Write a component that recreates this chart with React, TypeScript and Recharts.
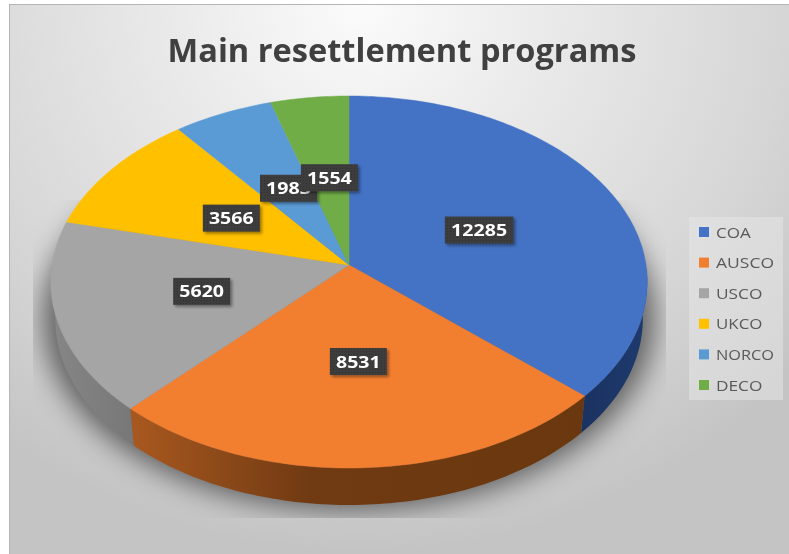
import React from "react";
import { PieChart, Pie, Cell, Legend } from "recharts";

const categories = ["COA", "AUSCO", "USCO", "UKCO", "NORCO", "DECO"];
const values = [12285, 8531, 5620, 3566, 1983, 1554];
const colors = ["#4472c4", "#f27f30", "#a5a5a5", "#ffc000", "#5b9bd5", "#70ad47"];
const wallFills = ["url(#wallBlue)", "url(#wallOrange)", "url(#wallGrey)", "#9a7400", "#36638c", "#44702a"];
// small hand nudges off the half-radius spot, like the best-fit labels in the reference
const labelNudgeX = [-4, 2, -4, 3, 4, 0];
const labelNudgeY = [2, 0, 0, 2, 2, 0];

const data = categories.map((name, i) => ({ name, value: values[i] }));

const FONT = "'Open Sans', sans-serif";
const RAD = Math.PI / 180;
// tilted disc: perspective projection of a circle lying on its back
const TILT = 0.621;
const PERSP = 0.0914;
const DEPTH = 37;
const BOTTOM_SCALE = 0.985;

const project = (cx: number, cy: number, r: number, deg: number, k = 1) => {
  const u = Math.cos(deg * RAD) * k;
  const v = -Math.sin(deg * RAD) * k;
  const s = 1 / (1 - PERSP * v);
  return { x: cx + r * u * s, y: cy + r * TILT * v * s, v };
};

const toPath = (pts: { x: number; y: number }[]) =>
  "M" + pts.map((p) => `${p.x.toFixed(1)},${p.y.toFixed(1)}`).join("L") + "Z";

const DiscSector = (props: any) => {
  const { cx, cy, outerRadius, startAngle, endAngle, name } = props;
  const idx = categories.indexOf(name);
  const rim: { x: number; y: number; v: number }[] = [];
  const n = Math.max(2, Math.ceil(Math.abs(startAngle - endAngle)));
  for (let i = 0; i <= n; i++) {
    rim.push(project(cx, cy, outerRadius, startAngle + ((endAngle - startAngle) * i) / n));
  }
  const front = rim.filter((p) => p.v >= 0);
  const lower = front
    .map((p) => ({ x: cx + (p.x - cx) * BOTTOM_SCALE, y: p.y + DEPTH }))
    .reverse();
  return (
    <g>
      {front.length > 1 && <path d={toPath([...front, ...lower])} fill={wallFills[idx]} />}
      <path d={toPath([{ x: cx, y: cy }, ...rim])} fill={colors[idx]} stroke={colors[idx]} strokeWidth={0.5} />
    </g>
  );
};

const DataLabel = (props: any) => {
  const { cx, cy, outerRadius, midAngle, value } = props;
  const idx = values.indexOf(value);
  const p = project(cx, cy, outerRadius, midAngle, 0.5);
  const x = p.x + 1 + labelNudgeX[idx];
  const y = p.y + labelNudgeY[idx];
  const digits = String(value).length;
  const w = digits * 11.5 + 11;
  return (
    <g>
      <rect x={x - w / 2} y={y - 13.5} width={w} height={27} fill="url(#labelDots)" filter="url(#labelShadow)" />
      <text
        x={x}
        y={y + 6}
        textAnchor="middle"
        fill="#fff"
        fontFamily={FONT}
        fontWeight={700}
        fontSize={16.5}
        textLength={digits * 11.2}
        lengthAdjust="spacingAndGlyphs"
      >
        {value}
      </text>
    </g>
  );
};

const LegendBox = ({ payload }: any) => (
  <svg width={94} height={183} style={{ display: "block" }}>
    <rect width={94} height={183} fill="#e8e8e8" fillOpacity={0.5} />
    {(payload || []).map((item: any, i: number) => (
      <g key={item.value} transform={`translate(0 ${15 + i * 30.6})`}>
        <rect x={10} y={-5} width={10} height={10} fill={item.color} />
        <text
          x={27}
          y={5.5}
          fontFamily={FONT}
          fontSize={15}
          fill="#595959"
          textLength={String(item.value).length * 11.6}
          lengthAdjust="spacingAndGlyphs"
        >
          {item.value}
        </text>
      </g>
    ))}
  </svg>
);

export default function App() {
  return (
    <div style={{ position: "absolute", left: 0, top: 0, width: 789, height: 554, background: "#fff", overflow: "hidden" }}>
      <div
        style={{
          position: "absolute",
          left: 9,
          top: 4,
          width: 780,
          height: 550,
          borderTop: "1px solid #b5b5b5",
          borderLeft: "1px solid #b5b5b5",
          boxSizing: "border-box",
          background: "radial-gradient(ellipse 75% 100% at 45% 0%, #fbfbfb 0%, #ebebeb 30%, #d6d6d6 72%, #c4c4c4 100%)",
        }}
      />
      <div style={{ position: "absolute", left: 0, top: 0, filter: "blur(0.4px)" }}>
        <PieChart width={789} height={554} margin={{ top: 0, right: 0, bottom: 0, left: 0 }}>
          <defs>
            <linearGradient id="wallOrange" gradientUnits="userSpaceOnUse" x1="133" x2="580" y1="0" y2="0">
              <stop offset="0%" stopColor="#a8581f" />
              <stop offset="40%" stopColor="#703a12" />
              <stop offset="100%" stopColor="#6a380e" />
            </linearGradient>
            <linearGradient id="wallBlue" gradientUnits="userSpaceOnUse" x1="580" x2="648" y1="0" y2="0">
              <stop offset="0%" stopColor="#1a3260" />
              <stop offset="100%" stopColor="#1e3a6e" />
            </linearGradient>
            <linearGradient id="wallGrey" gradientUnits="userSpaceOnUse" x1="53" x2="135" y1="0" y2="0">
              <stop offset="0%" stopColor="#868686" />
              <stop offset="100%" stopColor="#777" />
            </linearGradient>
            <pattern id="labelDots" width="3" height="3" patternUnits="userSpaceOnUse">
              <rect width="3" height="3" fill="#3d3d3d" />
              <rect width="1" height="1" fill="#323232" />
            </pattern>
            <filter id="labelShadow" x="-20%" y="-30%" width="140%" height="170%">
              <feDropShadow dx="2" dy="2" stdDeviation="1.5" floodColor="#000" floodOpacity="0.4" />
            </filter>
            <filter id="discShadow" x="-20%" y="-30%" width="140%" height="160%">
              <feGaussianBlur stdDeviation="14" />
            </filter>
            <clipPath id="shadowClip">
              <rect x={33} y={200} width={633} height={318} />
            </clipPath>
          </defs>
          <g clipPath="url(#shadowClip)">
            <ellipse cx={349} cy={318} rx={306} ry={192} fill="#000" fillOpacity={0.55} filter="url(#discShadow)" />
          </g>
          <text
            x={402}
            y={62}
            textAnchor="middle"
            fontFamily={FONT}
            fontWeight={700}
            fontSize={32}
            fill="#404040"
            textLength={469}
            lengthAdjust="spacingAndGlyphs"
          >
            Main resettlement programs
          </text>
          <Pie
            data={data}
            dataKey="value"
            nameKey="name"
            cx={349}
            cy={265}
            outerRadius={297}
            startAngle={90}
            endAngle={-270}
            stroke="none"
            shape={DiscSector}
            label={DataLabel}
            labelLine={false}
            isAnimationActive={false}
          >
            {categories.map((c, i) => (
              <Cell key={c} fill={colors[i]} />
            ))}
          </Pie>
          <Legend
            layout="vertical"
            align="right"
            verticalAlign="middle"
            itemSorter={null}
            content={LegendBox}
            wrapperStyle={{ position: "absolute", left: 689, top: 217, width: 94, height: 183 }}
          />
        </PieChart>
      </div>
    </div>
  );
}
